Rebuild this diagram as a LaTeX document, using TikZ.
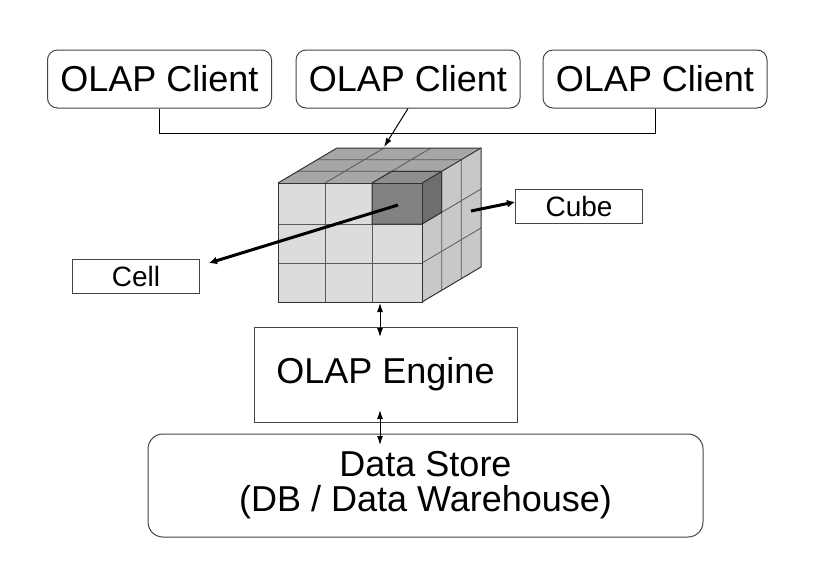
\documentclass[tikz,border=0pt]{standalone}
\usepackage{fontspec}
\setmainfont{Liberation Sans}
\usetikzlibrary{arrows.meta}
\definecolor{topc}{HTML}{A6A6A6}
\definecolor{sidec}{HTML}{C8C8C8}
\definecolor{frontc}{HTML}{DCDCDC}
\definecolor{darkfront}{HTML}{828282}
\definecolor{darktop}{HTML}{8E8E8E}
\definecolor{darkside}{HTML}{6E6E6E}
\definecolor{boxline}{HTML}{444444}
\begin{document}
\begin{tikzpicture}[x=1pt,y=-1pt,
  bigfont/.style={font=\fontsize{36}{35}\selectfont},
  smallfont/.style={font=\fontsize{28}{28}\selectfont},
  clientbox/.style={draw=boxline, line width=1pt, rounded corners=10pt, minimum width=224pt, minimum height=58pt, inner sep=0pt, bigfont},
  labelbox/.style={draw=boxline, line width=1pt, minimum width=127pt, minimum height=34pt, inner sep=0pt, smallfont},
  enginebox/.style={draw=boxline, line width=1pt, minimum width=263pt, minimum height=95pt, inner sep=0pt, bigfont},
  storebox/.style={draw=boxline, line width=1pt, rounded corners=15pt, minimum width=555pt, minimum height=103pt, inner sep=0pt, align=center, bigfont},
  gridline/.style={draw=black!65, line width=0.8pt},
  edgeline/.style={draw=black!80, line width=1pt},
  thinarrow/.style={draw=black, line width=1pt, -{Latex[length=9pt,width=6pt]}},
  dblarrow/.style={draw=black, line width=1pt, {Latex[length=9pt,width=6pt]}-{Latex[length=9pt,width=6pt]}},
  thickarrow/.style={draw=black, line width=3pt, -{Latex[length=8pt,width=8pt]}}
]
\useasboundingbox (0,0) rectangle (834,582);

% client boxes
\node[clientbox] (c1) at (159.5,79) {OLAP Client};
\node[clientbox] (c2) at (408,79) {OLAP Client};
\node[clientbox] (c3) at (655,79) {OLAP Client};

% cube
\fill[topc] (278,183) -- (422,183) -- (481,148) -- (337,148) -- cycle;
\fill[sidec] (422,183) -- (481,148) -- (481,267) -- (422,302) -- cycle;
\fill[frontc] (278,183) rectangle (422,302);
\fill[darkfront] (372,183) rectangle (422,224);
\fill[darktop] (372,183) -- (422,183) -- (441.67,171.33) -- (391.67,171.33) -- cycle;
\fill[darkside] (422,183) -- (441.67,171.33) -- (441.67,212.33) -- (422,224) -- cycle;
% front grid
\draw[gridline] (325,183) -- (325,302) (372,183) -- (372,302)
  (278,224) -- (422,224) (278,263) -- (422,263);
% top grid
\draw[gridline] (297.67,171.33) -- (441.67,171.33) (317.33,159.67) -- (461.33,159.67)
  (325,183) -- (384,148) (372,183) -- (431,148);
% side grid
\draw[gridline] (441.67,171.33) -- (441.67,290.33) (461.33,159.67) -- (461.33,278.67)
  (422,224) -- (481,189) (422,263) -- (481,228);
% dark cell edges
\draw[edgeline] (372,183) -- (372,224) -- (422,224) -- (441.67,212.33) -- (441.67,171.33) -- (391.67,171.33) -- (372,183);
% outline
\draw[edgeline] (278,183) rectangle (422,302);
\draw[edgeline] (278,183) -- (337,148) -- (481,148) -- (481,267) -- (422,302);
\draw[edgeline] (422,183) -- (481,148);

% labels
\node[labelbox] (cube) at (579,206) {Cube};
\node[labelbox] (cell) at (136,276) {Cell};

% engine and store
\node[enginebox] (engine) at (385.5,374.5) {OLAP Engine};
\node[storebox] (store) at (425.5,485.5) {Data Store\\(DB / Data Warehouse)};

% named coordinates
\coordinate (cubetop) at (384,147);
\coordinate (cellsrc) at (398,205);
\coordinate (celltip) at (209,263);
\coordinate (cubesrc) at (471,211);
\coordinate (cubetip) at (515,202);
\coordinate (cubebot) at (380,303);
\coordinate (engtop) at (380,337);
\coordinate (engbot) at (380,410);
\coordinate (storetop) at (380,445);

% connectors
\draw[black, line width=1pt] (c1.south) -- ++(0,25) -| (c3.south);
\draw[thinarrow] (c2.south) -- (cubetop);
\draw[thickarrow] (cellsrc) -- (celltip);
\draw[thickarrow] (cubesrc) -- (cubetip);
\draw[dblarrow] (cubebot) -- (engtop);
\draw[dblarrow] (engbot) -- (storetop);
\end{tikzpicture}
\end{document}
